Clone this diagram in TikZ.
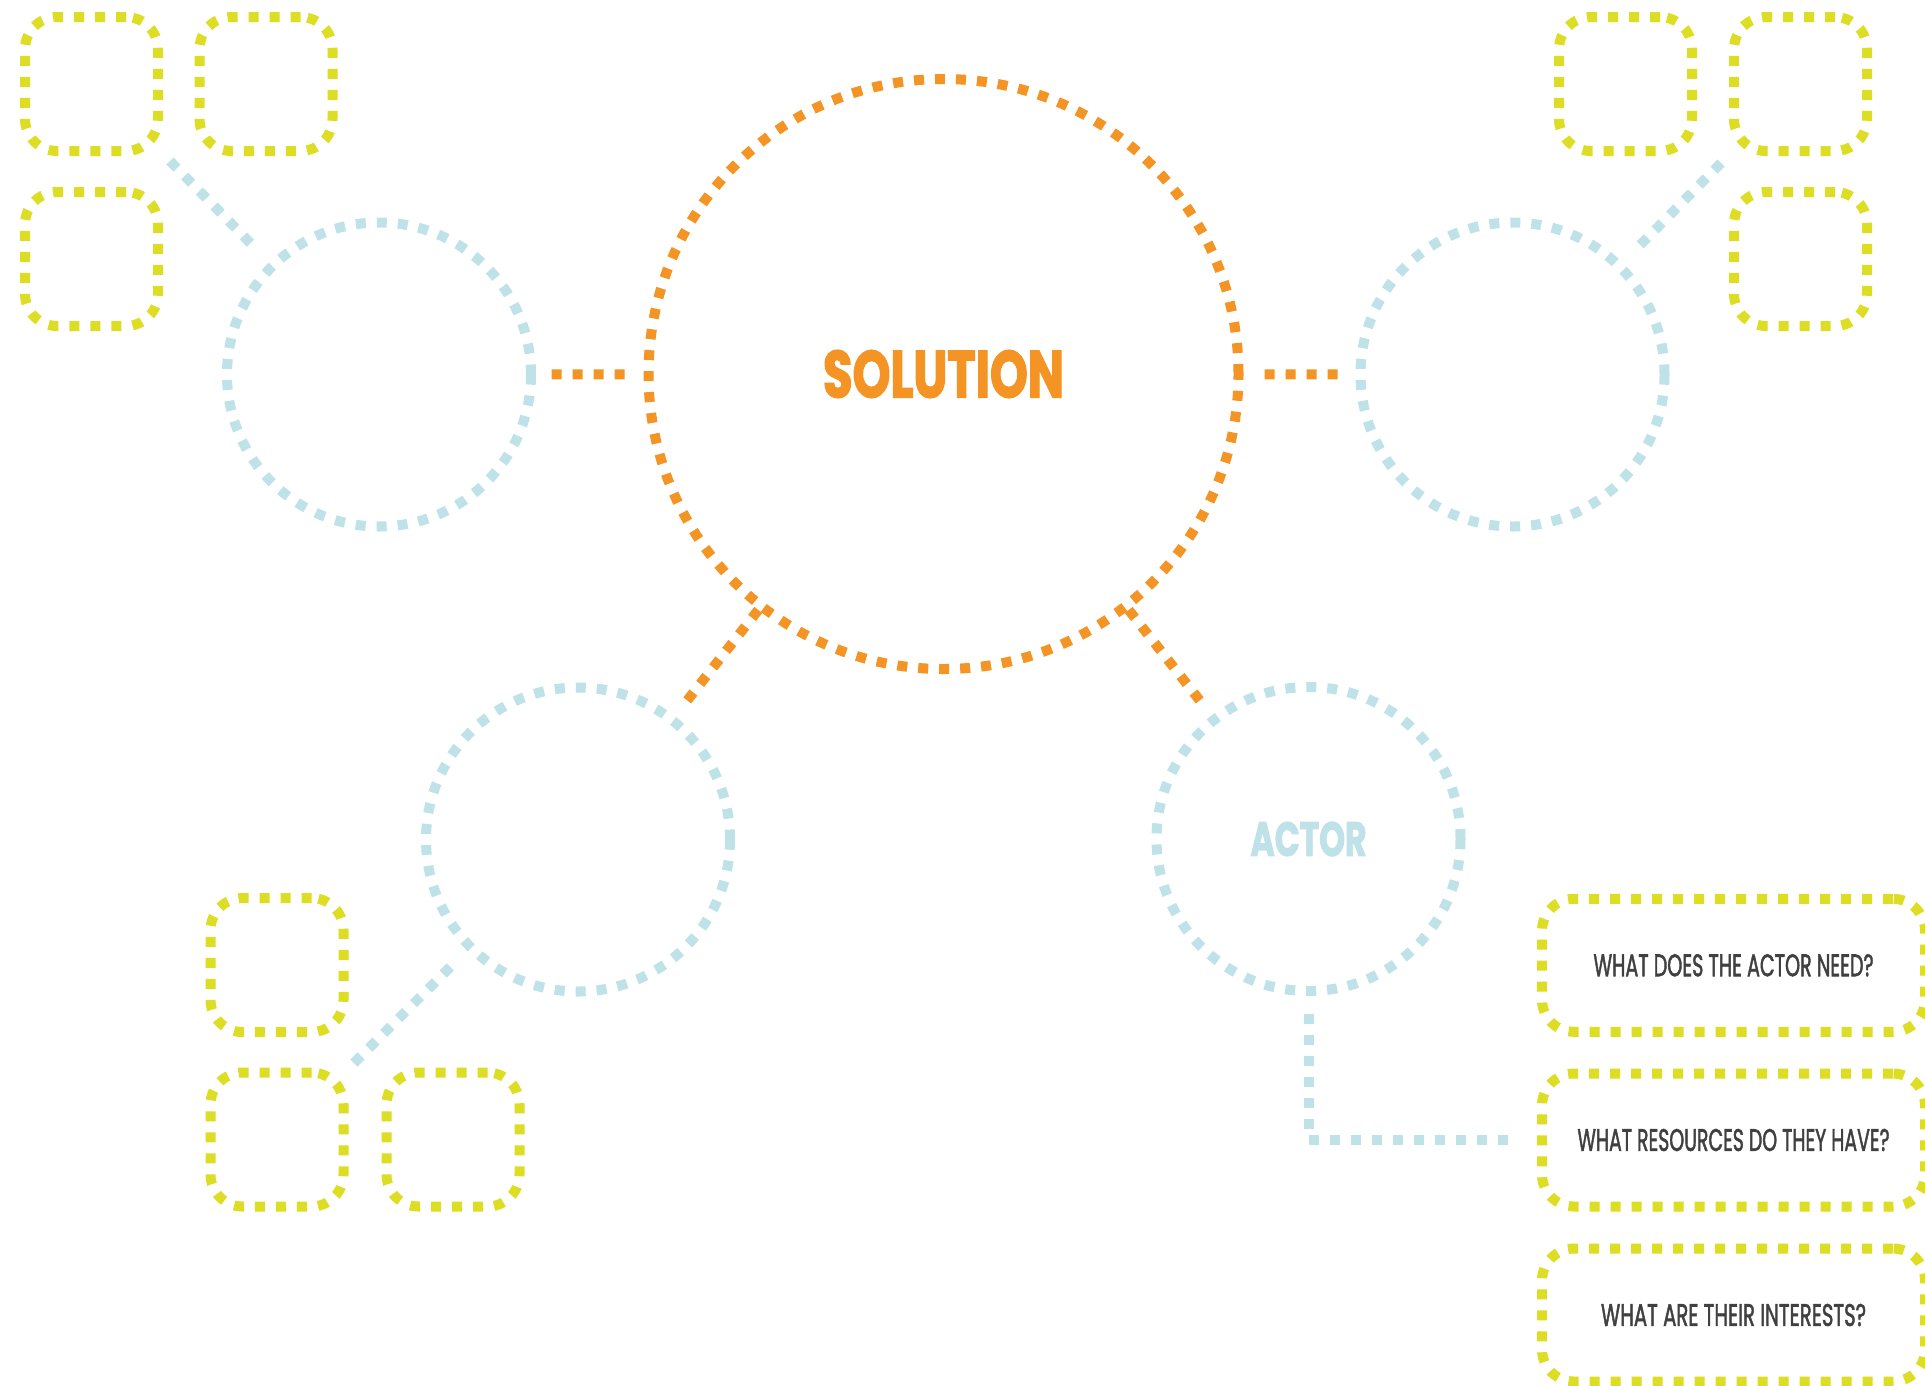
\documentclass[tikz,border=0pt]{standalone}
\usepackage{fontspec}
\usepackage{graphicx}
\newfontfamily\solfont{Poppins}[BoldFeatures={FakeBold=2.5}]
\newfontfamily\qfont{Poppins}[FakeBold=2]
\definecolor{solorange}{HTML}{F39424}
\definecolor{actblue}{HTML}{BEE2E8}
\definecolor{boxyellow}{HTML}{DDDD24}
\definecolor{qgrey}{HTML}{404040}
\tikzset{
  dotline/.style={line width=10pt, dash pattern=on 10pt off 11pt},
  bigc/.style={circle, draw=solorange, dotline, minimum size=590pt, inner sep=0pt, text=solorange},
  smallc/.style={circle, draw=actblue, dotline, minimum size=304pt, inner sep=0pt, text=actblue},
  ibox/.style={rectangle, rounded corners=32pt, draw=boxyellow, dotline, minimum width=133pt, minimum height=134pt, inner sep=0pt, text=qgrey},
  qbox/.style={ibox, minimum width=383pt, minimum height=133pt},
  oline/.style={draw=solorange, dotline},
  bline/.style={draw=actblue, dotline},
}
\begin{document}
\begin{tikzpicture}[x=1pt,y=-1pt]
\useasboundingbox[fill=white] (0,0) rectangle (1925,1385);
% circles
\node[bigc] (big) at (943.5,374) {\resizebox{241pt}{47pt}{\solfont\bfseries SOLUTION}};
\node[smallc] (left) at (379,374.5) {};
\node[smallc] (right) at (1512.5,374.5) {};
\node[smallc] (ll) at (578,839.5) {};
\node[smallc] (actor) at (1308.5,839) {\resizebox{116pt}{34pt}{\solfont\bfseries ACTOR}};
% top-left boxes
\node[ibox] (l1) at (91.5,84) {};
\node[ibox] (l2) at (266,84) {};
\node[ibox] (l3) at (91.5,259) {};
% top-right boxes
\node[ibox] (r1) at (1625.5,84) {};
\node[ibox] (r2) at (1800.5,84) {};
\node[ibox] (r3) at (1800.5,259) {};
% bottom-left boxes
\node[ibox] (d1) at (277,965) {};
\node[ibox] (d2) at (277,1139.5) {};
\node[ibox] (d3) at (453,1139.5) {};
% question boxes
\node[qbox] (q1) at (1733.5,965.3) {\resizebox{280pt}{22pt}{\qfont WHAT DOES THE ACTOR NEED?}};
\node[qbox] (q2) at (1733.5,1140) {\resizebox{312pt}{22pt}{\qfont WHAT RESOURCES DO THEY HAVE?}};
\node[qbox] (q3) at (1733.5,1315) {\resizebox{265pt}{22pt}{\qfont WHAT ARE THEIR INTERESTS?}};
% junction points
\coordinate (tlj) at (170,161);
\coordinate (trj) at (1721,163);
\coordinate (llj) at (354,1063);
% connectors
\draw[oline, shorten <=19pt, shorten >=13pt] (big) -- (left);
\draw[oline, shorten <=21pt, shorten >=17pt] (big) -- (right);
\draw[oline, shorten >=10pt] (big) -- (ll);
\draw[oline, shorten >=10pt] (big) -- (actor);
\draw[bline, shorten >=17pt] (tlj) -- (left);
\draw[bline, shorten >=19pt] (trj) -- (right);
\draw[bline, shorten >=15pt] (llj) -- (ll);
\draw[bline, shorten <=18pt, shorten >=27pt] (actor) |- (q2);
\end{tikzpicture}
\end{document}
